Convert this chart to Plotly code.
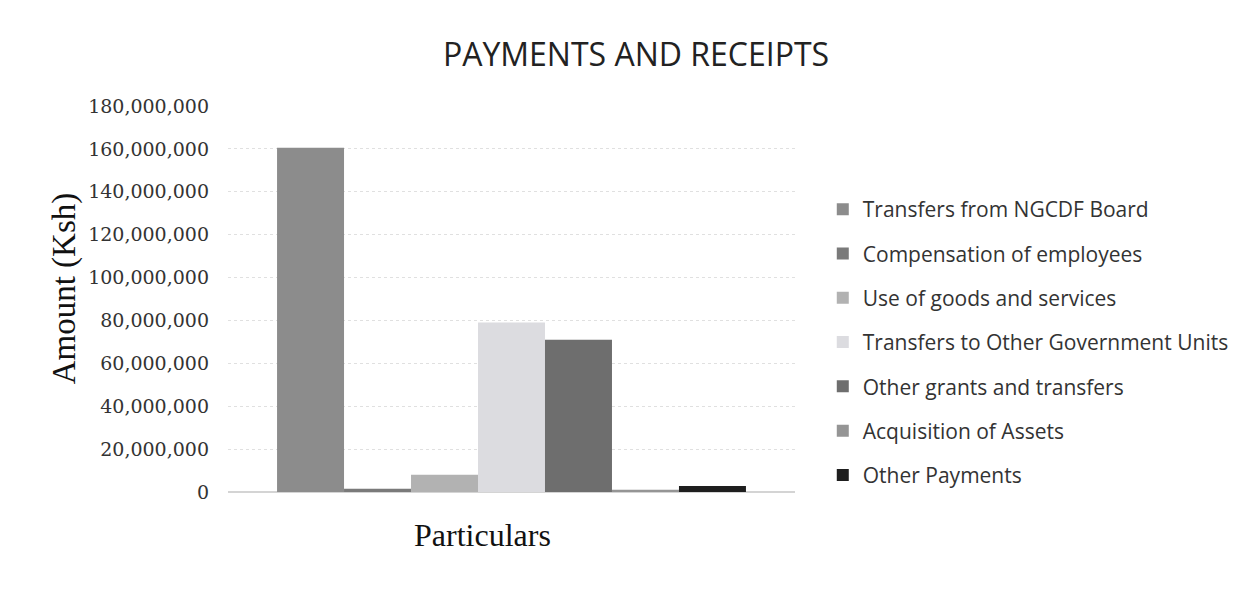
import plotly.graph_objects as go

categories = ["Particulars"]
series_names = [
    "Transfers from NGCDF Board",
    "Compensation of employees",
    "Use of goods and services",
    "Transfers to Other Government Units",
    "Other grants and transfers",
    "Acquisition of Assets",
    "Other Payments",
]
series_values = [160_500_000, 1_500_000, 8_000_000, 79_000_000, 71_000_000, 1_000_000, 2_800_000]
series_colors = ["#8c8c8c", "#7a7a7a", "#b2b2b2", "#dcdce0", "#6e6e6e", "#959595", "#1e1e1e"]
y_ticks = list(range(0, 180_000_001, 20_000_000))
y_tick_labels = [f"{v:,}" for v in y_ticks]

fig = go.Figure()
for name, val, col in zip(series_names, series_values, series_colors):
    fig.add_trace(go.Bar(
        x=categories, y=[val], name=name, legendgroup=name,
        marker=dict(color=col, line=dict(width=0)),
    ))

serif = "Liberation Serif, Times New Roman, serif"
tickserif = "DejaVu Serif, serif"
sans = "Open Sans, Noto Sans, sans-serif"

fig.update_layout(
    width=1252, height=605,
    margin=dict(l=220, r=465, t=98, b=121),
    paper_bgcolor="white", plot_bgcolor="white",
    barmode="group", bargap=0.173, bargroupgap=0,
    title=dict(text="PAYMENTS AND RECEIPTS", x=0.5016, xanchor="center", y=0.923, yanchor="middle",
               font=dict(family=sans, size=32, color="#222")),
    showlegend=True,
    legend=dict(x=1.049, xanchor="left", y=0.785, yanchor="top",
                font=dict(family=sans, size=21, color="#333"),
                tracegroupgap=14, bgcolor="rgba(0,0,0,0)"),
    xaxis=dict(showticklabels=False, showgrid=False, zeroline=False, showline=False, automargin=False),
    yaxis=dict(range=[0, 180_000_000], tickvals=y_ticks, ticktext=y_tick_labels,
               tickfont=dict(family=tickserif, size=19, color="#333"),
               showgrid=True, gridcolor="#e0e0e0", griddash="dot", gridwidth=1,
               zeroline=True, zerolinecolor="#d4d4d4", showline=False, ticks="", ticklen=0,
               ticklabelstandoff=18, automargin=False),
    annotations=[
        dict(text="Particulars", xref="paper", yref="paper", x=0.448, y=-0.111,
             xanchor="center", yanchor="middle", showarrow=False,
             font=dict(family=serif, size=32, color="#111")),
        dict(text="Amount (Ksh)", xref="paper", yref="paper", x=-0.289, y=0.528,
             xanchor="center", yanchor="middle", showarrow=False, textangle=-90,
             font=dict(family=serif, size=33, color="#111")),
    ],
)

fig.write_html("out.html")
